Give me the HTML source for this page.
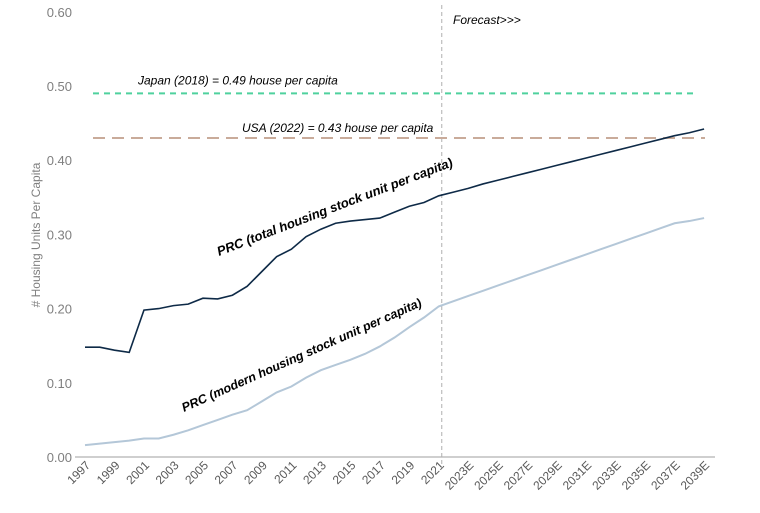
<!DOCTYPE html>
<html><head><meta charset="utf-8"><style>
body{margin:0;background:#fff;}
svg{display:block;font-family:"Liberation Sans",sans-serif;}
</style></head><body>
<svg id="chart" width="760" height="513">
</svg>
<script>
const years = [];
for (let y = 1997; y <= 2039; y++) years.push(y);
const totalStock = [0.148,0.148,0.144,0.141,0.198,0.200,0.204,0.206,0.214,0.213,0.218,0.230,0.250,0.270,0.280,0.297,0.307,0.315,0.318,0.320,0.322,0.330,0.338,0.343,0.352,
0.357,0.362,0.368,0.373,0.378,0.383,0.388,0.393,0.398,0.403,0.408,0.413,0.418,0.423,0.428,0.433,0.437,0.442];
const modernStock = [0.016,0.018,0.020,0.022,0.025,0.025,0.030,0.036,0.043,0.050,0.057,0.063,0.075,0.087,0.095,0.107,0.117,0.124,0.131,0.139,0.149,0.161,0.175,0.188,0.203,
0.210,0.217,0.224,0.231,0.238,0.245,0.252,0.259,0.266,0.273,0.280,0.287,0.294,0.301,0.308,0.315,0.318,0.322];
const yTicks = [0,0.1,0.2,0.3,0.4,0.5,0.6];
const japanValue = 0.49, usaValue = 0.43, forecastYear = 2021;

const svg = document.getElementById('chart');
const NS = 'http://www.w3.org/2000/svg';
const x = yr => 85 + (yr - 1997) * 14.74;
const y = v => 457 - v * 742;
function mk(tag, attrs, text){const e=document.createElementNS(NS,tag);for(const k in attrs)e.setAttribute(k,attrs[k]);if(text!==undefined)e.textContent=text;svg.appendChild(e);return e;}

yTicks.forEach(t=>{
  const e = mk('text',{x:72,y:y(t)+5,'text-anchor':'end','font-size':13,fill:'#7f7f7f'},t.toFixed(2));
  
  
});
const yt = mk('text',{x:0,y:0,'text-anchor':'middle','font-size':12,fill:'#7f7f7f',transform:'translate(40,235) rotate(-90)'},'# Housing Units Per Capita');



const ax = mk('line',{x1:75,x2:715,y1:457,y2:457,stroke:'#bfbfbf','stroke-width':1.5});



years.forEach(yr=>{
  if ((yr-1997)%2) return;
  const lbl = yr>forecastYear ? yr+'E' : String(yr);
  const e = mk('text',{x:0,y:0,'text-anchor':'end','font-size':12,fill:'#595959',transform:`translate(${x(yr)+6},${466}) rotate(-45)`},lbl);
  
  
});

const fl = mk('line',{x1:x(forecastYear)+3,x2:x(forecastYear)+3,y1:5,y2:468,stroke:'#b0b0b0','stroke-width':1,'stroke-dasharray':'4,3'});


const ft = mk('text',{x:453,y:24,'font-size':12,'font-style':'italic',fill:'#000'},'Forecast>>>');



const jl = mk('line',{x1:93,x2:698,y1:y(japanValue),y2:y(japanValue),stroke:'#4fd19e','stroke-width':2,'stroke-dasharray':'6,5'});


const jt = mk('text',{x:138,y:y(japanValue)-9,'font-size':12,'font-style':'italic',fill:'#000'},'Japan (2018) = 0.49 house per capita');



const ul = mk('line',{x1:93,x2:705,y1:y(usaValue),y2:y(usaValue),stroke:'#c9ab9a','stroke-width':2,'stroke-dasharray':'12,7'});


const ut = mk('text',{x:242,y:y(usaValue)-6,'font-size':12,'font-style':'italic',fill:'#000'},'USA (2022) = 0.43 house per capita');



const mp = mk('polyline',{points:years.map((yr,i)=>x(yr)+','+y(modernStock[i])).join(' '),fill:'none',stroke:'#b4c7d8','stroke-width':2});


const tp = mk('polyline',{points:years.map((yr,i)=>x(yr)+','+y(totalStock[i])).join(' '),fill:'none',stroke:'#0e2a47','stroke-width':1.6});



const tl = mk('text',{x:0,y:0,'font-size':13,'font-weight':'bold','font-style':'italic',fill:'#000',transform:'translate(219,256) rotate(-21)'},'PRC (total housing stock unit per capita)');


const ml = mk('text',{x:0,y:0,'font-size':12.5,'font-weight':'bold','font-style':'italic',fill:'#000',transform:'translate(184,412) rotate(-24)'},'PRC (modern housing stock unit per capita)');


</script>
</body></html>
